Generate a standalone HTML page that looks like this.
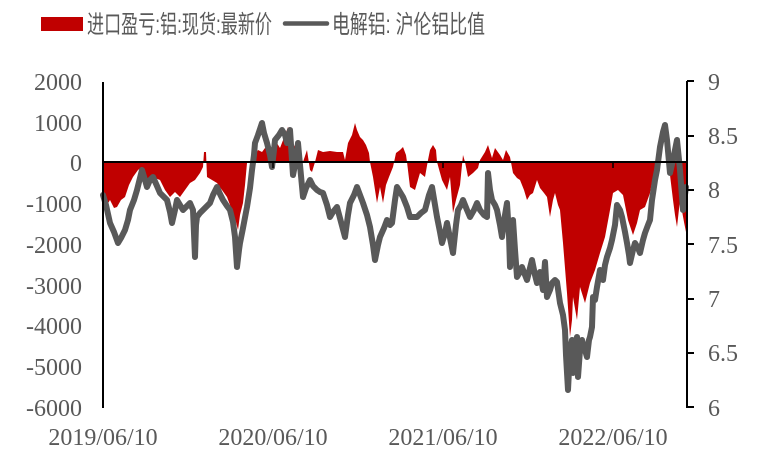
<!DOCTYPE html>
<html><head><meta charset="utf-8"><style>
html,body{margin:0;padding:0;background:#fff;}
svg{display:block;}
.num{font-family:"Liberation Serif",serif;font-size:24px;fill:#595959;}
.leg{font-family:"Liberation Sans","Noto Sans CJK SC",sans-serif;font-size:25px;fill:#595959;}
</style></head><body>
<svg width="768" height="473" viewBox="0 0 768 473" xmlns="http://www.w3.org/2000/svg">
<rect width="768" height="473" fill="#fff"/>
<!-- legend -->
<rect x="41" y="17" width="42" height="14" fill="#C00000"/>
<text class="leg" x="87" y="33" textLength="185" lengthAdjust="spacingAndGlyphs">进口盈亏:铝:现货:最新价</text>
<line x1="285" y1="23.5" x2="327" y2="23.5" stroke="#595959" stroke-width="4.5" stroke-linecap="round"/>
<text class="leg" x="332" y="33" textLength="153" lengthAdjust="spacingAndGlyphs">电解铝:  沪伦铝比值</text>

<!-- red area -->
<polygon fill="#C00000" points="103,162 103,195 107,205 110,200 114,208 117,207 121,200 125,197 129,185 133,177 138,170 142,167 146,178 150,183 155,178 160,180 165,190 170,197 175,192 180,197 185,190 190,183 195,180 200,173 203,167 204,152 206,152 207,177 212,180 217,183 222,190 227,197 230,205 233,213 236,222 238,230 240,215 243,203 245,185 247,163 252,162 255,155 258,150 262,152 265,148 270,150 275,140 280,148 285,135 288,127 292,140 296,150 300,150 303,162 307,150 310,170 312,172 315,162 318,150 323,152 330,151 337,152 343,152 345,160 348,143 352,135 355,123 357,130 360,137 363,140 366,145 369,153 370,162 373,177 377,203 380,187 383,203 386,185 389,177 393,167 396,153 400,150 403,147 406,155 407,162 410,187 415,190 420,173 425,177 428,160 430,150 433,145 436,150 437,162 442,180 447,190 450,177 453,213 456,200 460,185 462,165 463,155 465,162 468,177 473,173 478,168 480,160 485,152 488,145 492,158 495,148 500,155 503,160 506,150 510,157 513,173 517,178 520,180 524,190 527,200 530,195 533,193 537,180 540,188 544,193 547,197 550,217 553,200 555,193 558,205 560,210 563,243 567,293 570,337 572,320 573,297 577,320 580,287 585,303 590,283 595,270 600,253 605,237 610,210 613,193 618,190 623,195 628,220 633,235 637,223 640,210 645,207 650,193 653,177 657,162 667,162 670,175 673,200 675,215 677,227 680,200 684,222 687,237 687,162"/>

<!-- gray line -->
<polyline fill="none" stroke="#595959" stroke-width="6" stroke-linejoin="round" stroke-linecap="round" points="103,195 106,205 110,223 114,232 118,243 121,238 125,230 128,220 130,210 134,200 137,190 140,178 142,170 145,180 147,187 150,180 153,177 157,186 160,193 163,196 167,200 170,212 172,223 175,210 177,200 180,205 183,210 187,206 190,203 193,210 195,257 196,225 197,217 200,213 203,210 207,206 210,203 213,195 217,187 220,194 223,200 227,206 230,210 233,222 235,237 237,267 239,250 240,243 243,228 247,207 250,188 252,170 254,155 255,143 258,135 262,123 264,133 267,143 270,155 272,167 274,150 275,140 279,135 282,130 285,135 287,143 290,130 293,175 296,160 298,143 300,165 303,197 306,188 310,180 313,186 317,190 320,192 323,193 327,205 330,217 333,212 337,207 341,222 345,237 348,215 350,203 354,195 357,187 360,195 363,203 367,215 370,227 373,245 375,260 378,245 380,237 384,228 387,220 390,225 392,223 395,200 397,187 400,192 403,197 407,207 410,217 413,217 417,217 421,213 425,210 429,195 432,187 435,205 437,217 440,232 442,243 445,233 447,223 450,238 453,253 456,225 458,210 461,205 463,200 467,210 470,217 474,210 477,203 480,210 484,215 487,217 488,173 490,190 492,200 495,205 497,210 500,225 502,237 505,215 507,203 509,235 510,267 512,240 513,220 515,250 517,277 520,272 522,267 525,275 527,280 530,268 532,260 535,275 537,283 540,272 543,290 545,262 547,297 550,290 552,283 555,280 557,282 560,303 563,315 565,330 566,355 568,390 570,350 572,340 573,373 575,345 577,337 578,377 580,350 582,340 585,350 587,357 589,340 590,337 592,327 593,297 595,300 597,287 600,270 603,280 605,265 607,257 610,248 612,240 615,225 617,205 620,210 622,217 625,232 627,243 629,255 630,263 633,250 635,243 638,248 640,253 643,240 645,233 648,225 650,220 652,200 655,180 657,170 660,147 663,132 665,125 667,140 670,173 673,160 677,140 680,170 683,210 686,187"/>

<!-- axes -->
<line x1="103" y1="82" x2="103" y2="408" stroke="#000" stroke-width="2"/>
<line x1="103" y1="162" x2="687" y2="162" stroke="#000" stroke-width="2"/>
<line x1="273" y1="162" x2="273" y2="168" stroke="#000" stroke-width="1.5"/>
<line x1="443" y1="162" x2="443" y2="168" stroke="#000" stroke-width="1.5"/>
<line x1="613" y1="162" x2="613" y2="168" stroke="#000" stroke-width="1.5"/>
<line x1="687" y1="81" x2="687" y2="408" stroke="#000" stroke-width="2"/>
<g stroke="#000" stroke-width="2">
<line x1="687" y1="81" x2="694" y2="81"/>
<line x1="687" y1="136" x2="694" y2="136"/>
<line x1="687" y1="190" x2="694" y2="190"/>
<line x1="687" y1="244" x2="694" y2="244"/>
<line x1="687" y1="299" x2="694" y2="299"/>
<line x1="687" y1="353" x2="694" y2="353"/>
<line x1="687" y1="407" x2="694" y2="407"/>
</g>

<!-- left labels -->
<g class="num" text-anchor="end">
<text x="82" y="90">2000</text>
<text x="82" y="131">1000</text>
<text x="82" y="171">0</text>
<text x="82" y="212">-1000</text>
<text x="82" y="253">-2000</text>
<text x="82" y="294">-3000</text>
<text x="82" y="334">-4000</text>
<text x="82" y="375">-5000</text>
<text x="82" y="416">-6000</text>
</g>
<!-- right labels -->
<g class="num">
<text x="708" y="90">9</text>
<text x="708" y="144">8.5</text>
<text x="708" y="198">8</text>
<text x="708" y="253">7.5</text>
<text x="708" y="307">7</text>
<text x="708" y="361">6.5</text>
<text x="708" y="416">6</text>
</g>
<!-- x labels -->
<g class="num" text-anchor="middle">
<text x="103" y="445">2019/06/10</text>
<text x="273" y="445">2020/06/10</text>
<text x="443" y="445">2021/06/10</text>
<text x="613" y="445">2022/06/10</text>
</g>
</svg>
</body></html>
